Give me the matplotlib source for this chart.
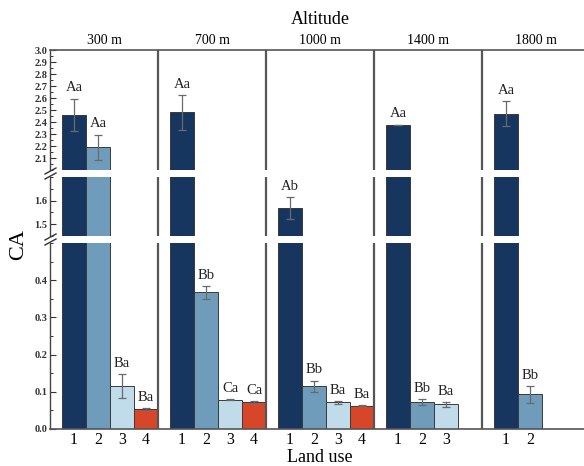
import matplotlib
matplotlib.use("Agg")
import matplotlib.pyplot as plt
from matplotlib.lines import Line2D
from matplotlib.ticker import MultipleLocator, FixedLocator

plt.rcParams['font.family'] = ['Liberation Serif', 'DejaVu Serif']

altitudes = ['300 m', '700 m', '1000 m', '1400 m', '1800 m']
land_uses = [[1, 2, 3, 4], [1, 2, 3, 4], [1, 2, 3, 4], [1, 2, 3], [1, 2]]
means = [[2.46, 2.19, 0.115, 0.053],
         [2.48, 0.367, 0.079, 0.072],
         [1.57, 0.115, 0.072, 0.063],
         [2.375, 0.072, 0.066],
         [2.47, 0.093]]
errors = [[0.135, 0.105, 0.032, 0.003],
          [0.145, 0.018, 0.002, 0.002],
          [0.046, 0.015, 0.004, 0.002],
          [0.003, 0.008, 0.006],
          [0.107, 0.022]]
letters = [['Aa', 'Aa', 'Ba', 'Ba'],
           ['Aa', 'Bb', 'Ca', 'Ca'],
           ['Ab', 'Bb', 'Ba', 'Ba'],
           ['Aa', 'Bb', 'Ba'],
           ['Aa', 'Bb']]
colors = ['#17365f', '#6e9cba', '#c0dbea', '#d8462a']

W, H = 584, 466
fig = plt.figure(figsize=(W / 100, H / 100), dpi=100)

left_px, bar_px = 50, 24
panel_units = 4.5
n_panels = len(altitudes)
xmax = n_panels * panel_units
ax_w = (xmax * bar_px) / W

segs = [  # (top_px, bottom_px, ylo, yhi)
    (50, 170, 2.0, 3.0),
    (177, 236, 1.45, 1.70),
    (243, 429, 0.0, 0.5),
]
axes = []
for top, bot, lo, hi in segs:
    ax = fig.add_axes([left_px / W, 1 - bot / H, ax_w, (bot - top) / H])
    ax.set_xlim(0, xmax)
    ax.set_ylim(lo, hi)
    for s in ['right', 'top', 'bottom']:
        ax.spines[s].set_visible(False)
    ax.spines['left'].set_color('#444444')
    ax.spines['left'].set_linewidth(1.0)
    ax.tick_params(axis='y', direction='in', length=4, width=0.8, labelsize=7.5, pad=2, colors='#333333')
    ax.tick_params(axis='y', which='minor', direction='in', length=2, width=0.7, colors='#333333')
    ax.tick_params(axis='x', length=0)
    axes.append(ax)

ax_top, ax_mid, ax_bot = axes
ax_top.spines['top'].set_visible(True)
ax_top.spines['top'].set_color('#555555')
ax_top.spines['top'].set_linewidth(1.2)
ax_bot.spines['bottom'].set_visible(True)
ax_bot.spines['bottom'].set_color('#555555')
ax_bot.spines['bottom'].set_linewidth(1.2)

ax_top.yaxis.set_major_locator(FixedLocator([2.1, 2.2, 2.3, 2.4, 2.5, 2.6, 2.7, 2.8, 2.9, 3.0]))
ax_top.yaxis.set_minor_locator(MultipleLocator(0.05))
ax_mid.yaxis.set_major_locator(FixedLocator([1.5, 1.6]))
ax_mid.yaxis.set_minor_locator(MultipleLocator(0.05))
ax_bot.yaxis.set_major_locator(FixedLocator([0.0, 0.1, 0.2, 0.3, 0.4]))
ax_bot.yaxis.set_minor_locator(MultipleLocator(0.05))
for ax in axes:
    ax.yaxis.set_major_formatter(matplotlib.ticker.FormatStrFormatter('%.1f'))
    for lab in ax.get_yticklabels():
        lab.set_fontweight('bold')
ax_top.set_xticks([])
ax_mid.set_xticks([])

xt, xl = [], []
for p in range(n_panels):
    for k, lu in enumerate(land_uses[p]):
        x = p * panel_units + lu
        m, e = means[p][k], errors[p][k]
        for ax in axes:
            ax.bar(x, m, width=1.0, color=colors[lu - 1], edgecolor='#3a3a3a', linewidth=0.7, zorder=2)
            ax.errorbar(x, m, yerr=e, fmt='none', ecolor='#6a6a6a', elinewidth=0.9, capsize=3, capthick=0.9, zorder=3)
        top = m + e
        for (t, b, lo, hi), ax in zip(segs, axes):
            if lo <= top <= hi:
                ax.annotate(letters[p][k], (x, top), xytext=(0, 3), textcoords='offset points',
                            ha='center', va='bottom', fontsize=10.5, color='#222222', annotation_clip=False)
        xt.append(x)
        xl.append(str(lu))
    if p > 0:
        for ax in axes:
            ax.axvline(p * panel_units, color='#555555', linewidth=1.6, zorder=4)
    ax_top.text(p * panel_units + panel_units / 2, 1.025, altitudes[p], transform=ax_top.get_xaxis_transform(),
                ha='center', va='bottom', fontsize=10)

ax_bot.set_xticks(xt)
ax_bot.set_xticklabels(xl, fontsize=11.5)
ax_bot.tick_params(axis='x', length=0, pad=2)

fig.text(320 / W, 1 - 19 / H, 'Altitude', ha='center', va='center', fontsize=13)
fig.text(320 / W, 1 - 458 / H, 'Land use', ha='center', va='center', fontsize=13)
fig.text(19 / W, 1 - 245 / H, 'CA', ha='center', va='center', fontsize=16, rotation=90)

# break marks on left spine
for yc in [173.5, 239.5]:
    for dy in (-2.5, 2.5):
        y = yc + dy
        fig.add_artist(Line2D([45 / W, 56 / W], [1 - (y + 3) / H, 1 - (y - 3) / H],
                              color='#333333', linewidth=1.0))

fig.savefig('out.png', dpi=100)
